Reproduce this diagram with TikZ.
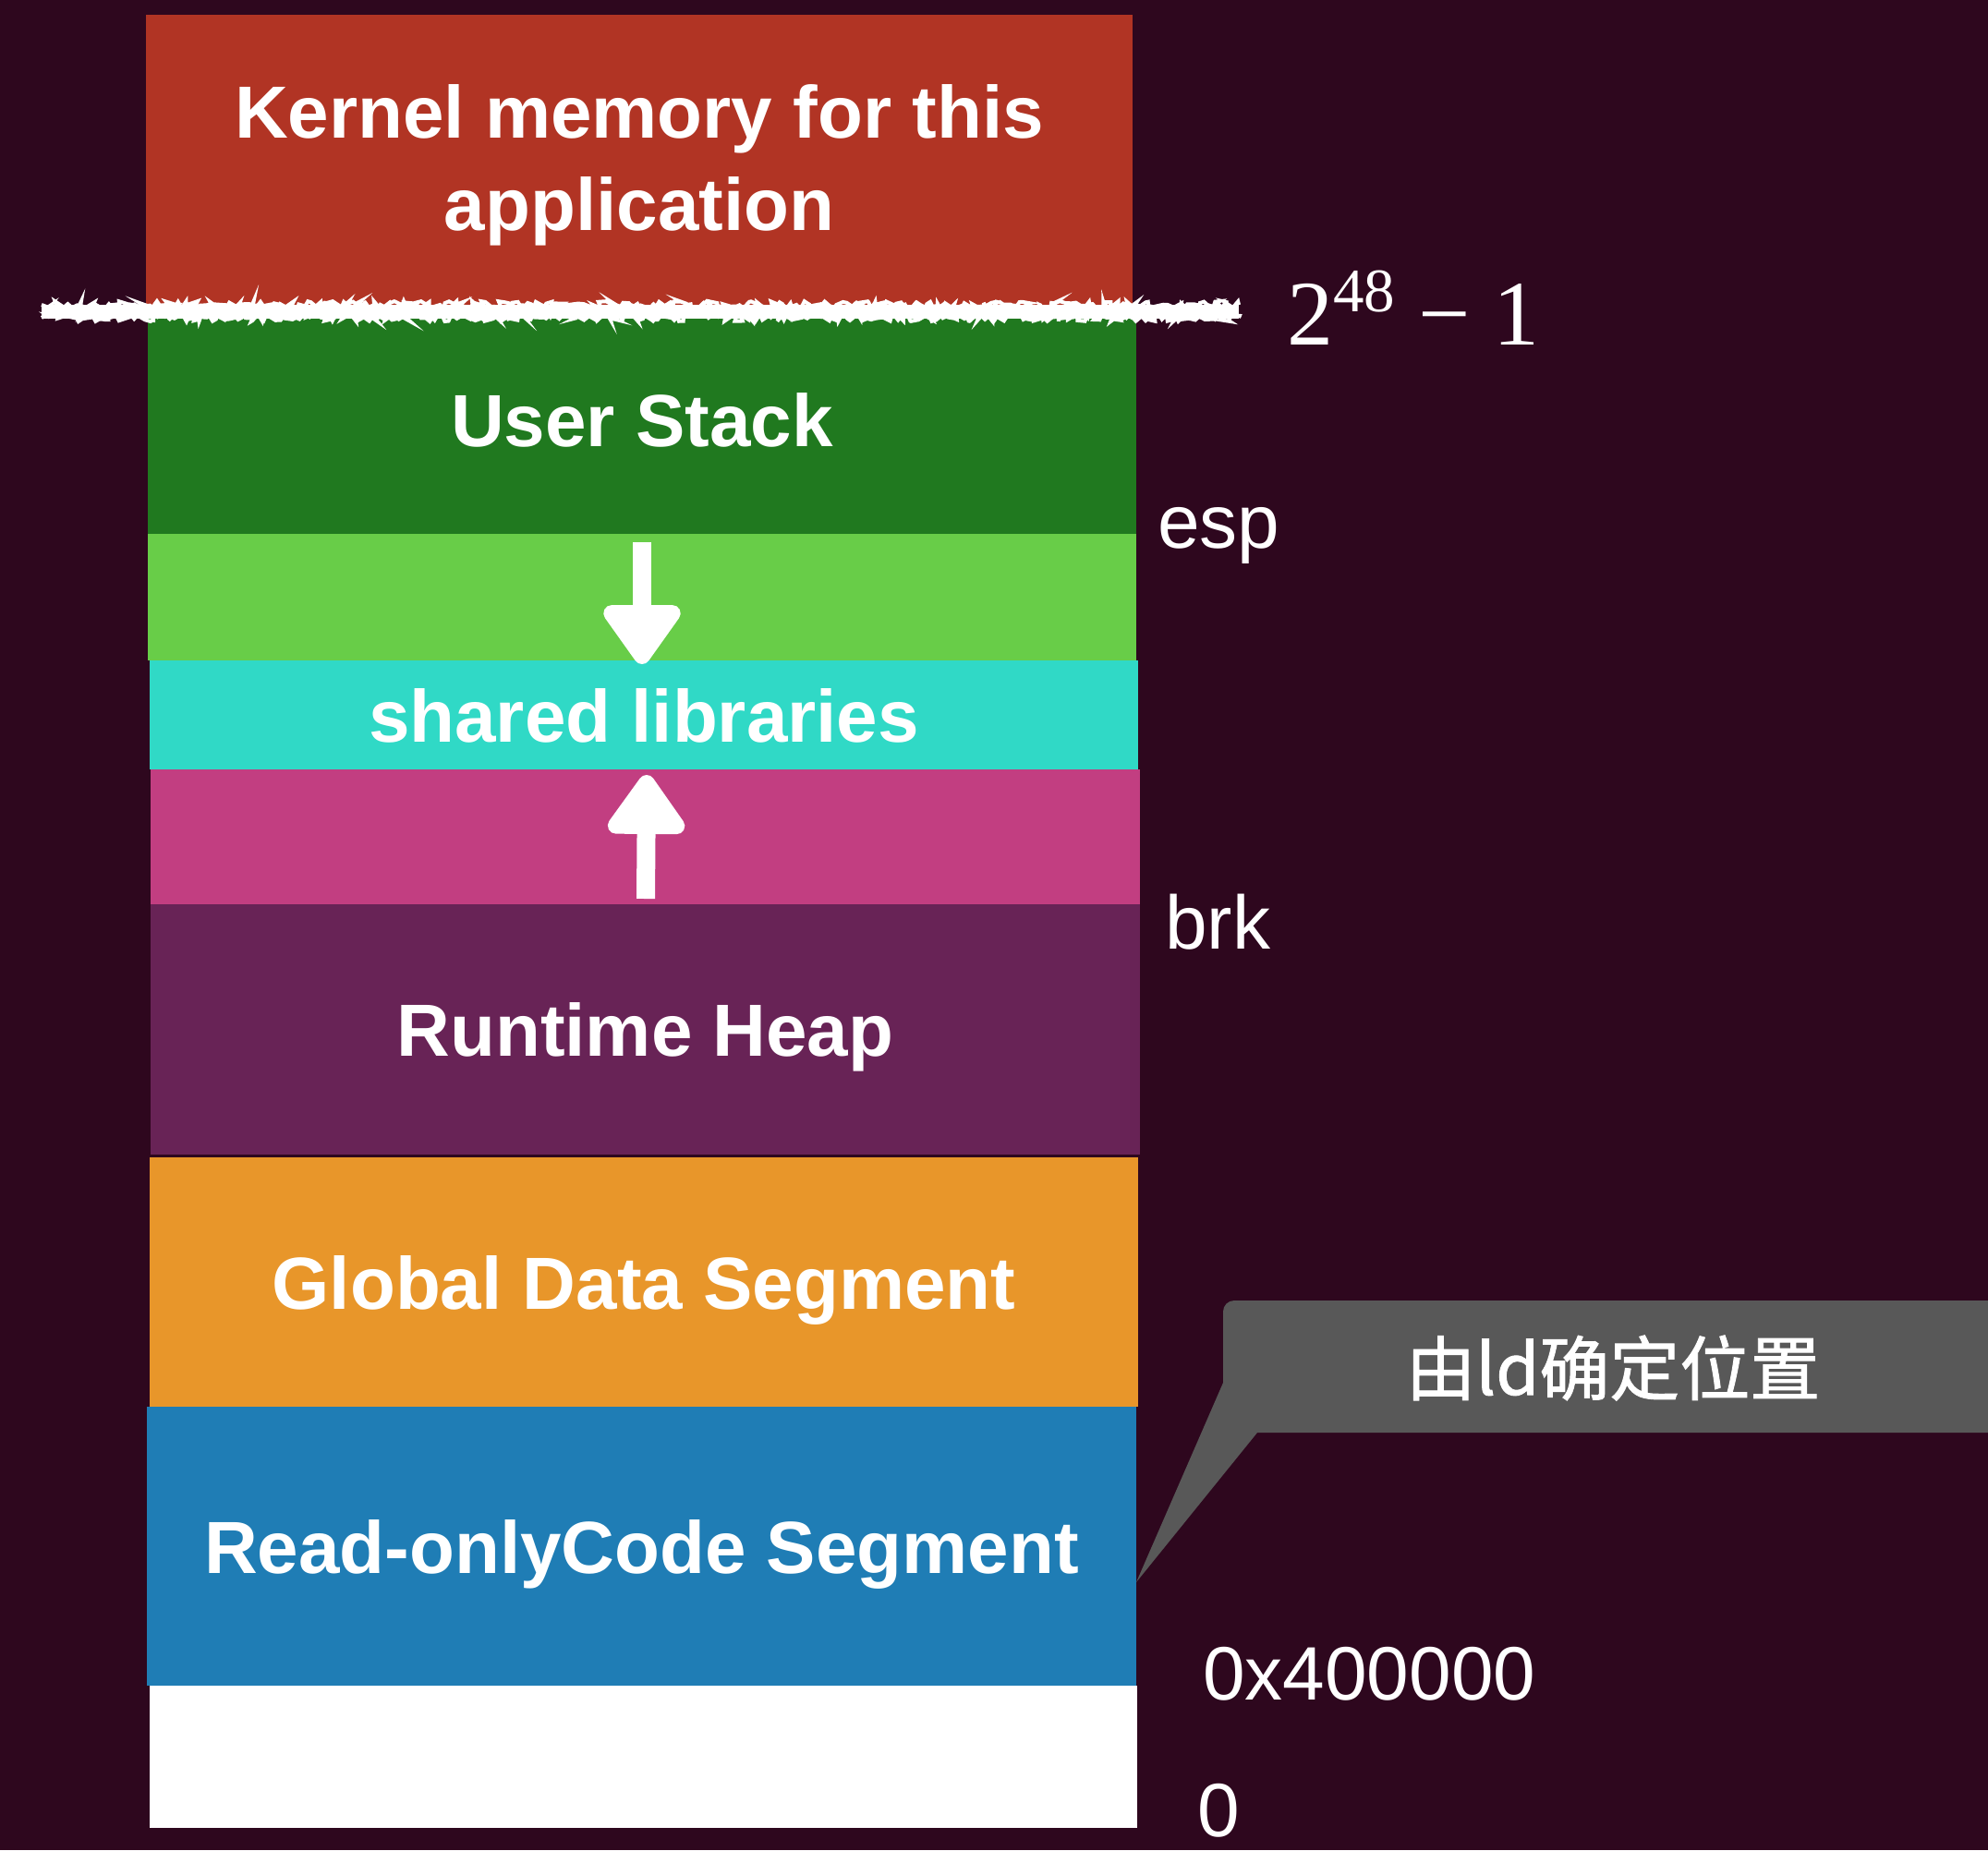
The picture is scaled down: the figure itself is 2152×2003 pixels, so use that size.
\documentclass[tikz,border=0pt]{standalone}
\usepackage{fontspec}
\setmainfont{Liberation Sans}
\newfontfamily\serifnum{Liberation Serif}
\newfontfamily\cjkfont[FakeBold=1.2]{Noto Sans CJK SC}
\usetikzlibrary{arrows.meta,decorations.pathmorphing}

% palette
\definecolor{bg}{RGB}{46,7,30}
\definecolor{kred}{RGB}{177,52,36}
\definecolor{stackgreen}{RGB}{32,121,31}
\definecolor{lightgreen}{RGB}{104,205,72}
\definecolor{libcyan}{RGB}{48,217,198}
\definecolor{heappink}{RGB}{194,62,129}
\definecolor{heapplum}{RGB}{104,35,86}
\definecolor{dataorange}{RGB}{232,150,42}
\definecolor{codeblue}{RGB}{31,125,181}
\definecolor{notegray}{RGB}{88,88,88}

\newcommand\bandfont{\fontsize{80}{100}\selectfont\bfseries}
\newcommand\addrfont{\fontsize{82}{82}\selectfont}

\begin{document}
\begin{tikzpicture}[x=1pt,y=-1pt,
  band/.style={anchor=north west, inner sep=0pt, outer sep=0pt, draw=none},
  bandtext/.style={text=white, font=\bandfont, inner sep=0pt, anchor=center},
  oneline/.style={text height=58pt, text depth=0pt},
  addr/.style={text=white, font=\addrfont, inner sep=0pt, anchor=base west},
  chalkarrow/.style={white, line width=20pt, -{Triangle[length=71pt,width=95pt,round]}},
  chalkedge/.style={white, line width=4pt, decorate,
    decoration={random steps, segment length=3pt, amplitude=4pt}},
]
\pgfmathsetseed{17}
\useasboundingbox (0,0) rectangle (2152,2003);
\fill[bg] (0,0) rectangle (2152,2003);

% memory layout bands, top to bottom
\node[band, fill=kred,       minimum width=1068pt, minimum height=314pt] (kernel) at (158,16)   {};
\node[band, fill=stackgreen, minimum width=1070pt, minimum height=248pt] (stack)  at (160,330)  {};
\node[band, fill=lightgreen, minimum width=1070pt, minimum height=137pt] (sgap)   at (160,578)  {};
\node[band, fill=libcyan,    minimum width=1070pt, minimum height=118pt] (libs)   at (162,715)  {};
\node[band, fill=heappink,   minimum width=1071pt, minimum height=146pt] (hgap)   at (163,833)  {};
\node[band, fill=heapplum,   minimum width=1071pt, minimum height=271pt] (heap)   at (163,979)  {};
\node[band, fill=dataorange, minimum width=1070pt, minimum height=270pt] (data)   at (162,1253) {};
\node[band, fill=codeblue,   minimum width=1071pt, minimum height=302pt] (code)   at (159,1523) {};
\node[band, fill=white,      minimum width=1069pt, minimum height=154pt] (low)    at (162,1825) {};

% band labels
\node[bandtext, align=center, yshift=-6pt] (kerneltxt) at (kernel.center) {Kernel memory for this\\application};
\node[bandtext, oneline] (stacktxt) at (stack.center) {User Stack};
\node[bandtext, oneline] (libstxt)  at (libs.center)  {shared libraries};
\node[bandtext, oneline] (heaptxt)  at (heap.center)  {Runtime Heap};
\node[bandtext, oneline] (datatxt)  at (data.center)  {Global Data Segment};
\node[bandtext, oneline] (codetxt)  at (code.center)  {Read-onlyCode Segment};

% growth directions of stack and heap
\coordinate (downtop) at (695,587);
\coordinate (downtip) at (695,719);
\draw[chalkarrow] (downtop) -- (downtip);
\coordinate (upbot) at (699,973);
\coordinate (uptip) at (700,839);
\draw[chalkarrow] (upbot) -- (uptip);

% chalk boundary between kernel and user space
\coordinate (chalkL) at (45,337);
\coordinate (chalkR) at (1341,337);
\draw[white, line width=15pt] (chalkL) -- (chalkR);
\draw[chalkedge] ([yshift=7pt]chalkL) -- ([yshift=7pt]chalkR);
\draw[chalkedge] ([yshift=-7pt]chalkL) -- ([yshift=-7pt]chalkR);

% addresses
\node[inner sep=0pt, anchor=base west, text=white] (topaddr) at (1393,373)
  {\serifnum\fontsize{100}{100}\selectfont 2\raisebox{36pt}{\fontsize{67}{67}\selectfont 48} − 1};
\node[addr] (esp)  at (1253,593)  {esp};
\node[addr] (brk)  at (1261,1027) {brk};
\node[addr] (base) at (1302,1840) {0x400000};
\node[addr, text depth=0pt] (zero) at (1296,1988) {0};

% callout pointing at the code segment
\fill[notegray] (2152,1408) -- (1336,1408) arc[start angle=90, end angle=180, radius=12pt]
  -- (1324,1497) -- (1230,1713) -- (1361,1551) -- (2152,1551) -- cycle;
\node[text=white, inner sep=0pt, font={\cjkfont\fontsize{76}{76}\selectfont}] (ldnote) at (1746,1481) {由ld确定位置};
\end{tikzpicture}
\end{document}
